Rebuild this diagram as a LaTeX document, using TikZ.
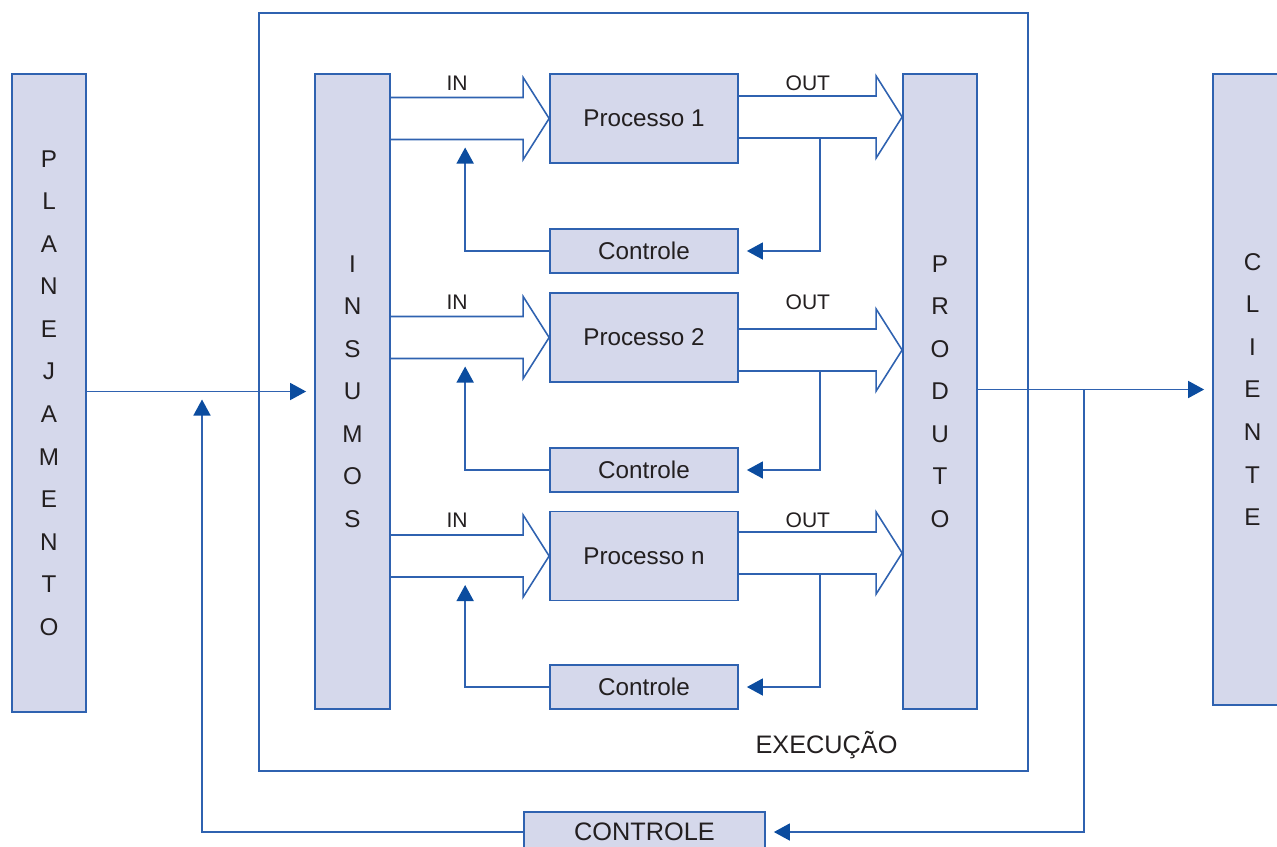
\documentclass[tikz,border=0pt]{standalone}
\usepackage{fontspec}
\setmainfont{Liberation Sans}
\usetikzlibrary{arrows.meta,calc}

\definecolor{boxfill}{HTML}{D5D8EB}
\definecolor{lineblue}{HTML}{2F62B0}
\definecolor{tipblue}{HTML}{0B4C9F}
\definecolor{txt}{HTML}{231F20}

\tikzset{
  blk/.style={draw=lineblue, fill=boxfill, line width=1pt, inner sep=0pt, text=txt,
    font=\fontsize{13.8}{16}\selectfont},
  col/.style={blk, align=center, font=\fontsize{13.8}{24.2}\selectfont},
  ln/.style={draw=lineblue, line width=0.9pt},
  fb/.style={ln, -{Triangle[length=0.32cm,width=0.34cm,color=tipblue]}, shorten >=0.16cm},
  lbl/.style={text=txt, font=\fontsize{12}{14}\selectfont},
}

% hollow block arrow from axis point #1 to tip #2
\newcommand{\bigarrow}[2]{%
  \draw[ln] ($(#1)+(0,-21)$) -- ($(#2)+(-26,-21)$) -- ($(#2)+(-26,-41)$) -- (#2)
    -- ($(#2)+(-26,41)$) -- ($(#2)+(-26,21)$) -- ($(#1)+(0,21)$);}

\begin{document}
\begin{tikzpicture}[x=0.02cm,y=-0.02cm]
\useasboundingbox (0,0) rectangle (1277,846);

% execution frame
\node[ln, minimum width=15.38cm, minimum height=15.16cm] (exec) at (643.5,392) {};
\node[text=txt, font=\fontsize{14.4}{16}\selectfont] (exectxt) at (826.5,745) {EXECUÇÃO};

% columns
\node[col, minimum width=1.48cm, minimum height=12.76cm] (plan) at (49,393) {P\\L\\A\\N\\E\\J\\A\\M\\E\\N\\T\\O};
\node[col, minimum width=1.5cm, minimum height=12.7cm] (ins) at (352.5,391.5) {I\\N\\S\\U\\M\\O\\S};
\node[col, minimum width=1.48cm, minimum height=12.7cm] (prod) at (940,391.5) {P\\R\\O\\D\\U\\T\\O};
\node[col, minimum width=1.58cm, minimum height=12.62cm] (cli) at (1252.5,389.5) {C\\L\\I\\E\\N\\T\\E};

% processes and their controls
\foreach \n/\t/\y/\c/\off in {1/1/118.5/251/-1.5, 2/2/337.5/470/12.5, 3/n/556/687/-3} {
  \node[blk, minimum width=3.76cm, minimum height=1.78cm] (p\n) at (644,\y) {Processo \t};
  \node[blk, minimum width=3.76cm, minimum height=0.88cm] (c\n) at (644,\c) {Controle};
  \node[lbl] (in\n) at ($(p\n.west)+(-92,-35.5)$) {IN};
  \node[lbl] (out\n) at ($(p\n.east)+(69,-35.5)$) {OUT};
  \coordinate (is\n) at (ins.east |- p\n.west);
  \coordinate (os\n) at ($(p\n.east)+(0,\off)$);
  \coordinate (ot\n) at ($(prod.west |- p\n.east)+(0,\off)$);
  \bigarrow{is\n}{p\n.west}
  \bigarrow{os\n}{ot\n}
  \draw[fb] ($(ot\n)+(-82,21)$) |- (c\n.east);
  \draw[fb] (c\n.west) -| ($(p\n.west)+(-84,21)$);
}

% outer control
\node[blk, minimum width=4.82cm, minimum height=0.8cm, font=\fontsize{14.4}{16}\selectfont] (ctl) at (644.5,832) {CONTROLE};
\coordinate (jl) at (ins.west -| 202,0);
\coordinate (jr) at (cli.west -| 1084,0);

\draw[fb] (plan.east |- ins.west) -- (ins.west);
\draw[fb] (prod.east |- cli.west) -- (cli.west);
\draw[fb] (jr) |- (ctl.east);
\draw[fb] (ctl.west) -| (jl);
\end{tikzpicture}
\end{document}
